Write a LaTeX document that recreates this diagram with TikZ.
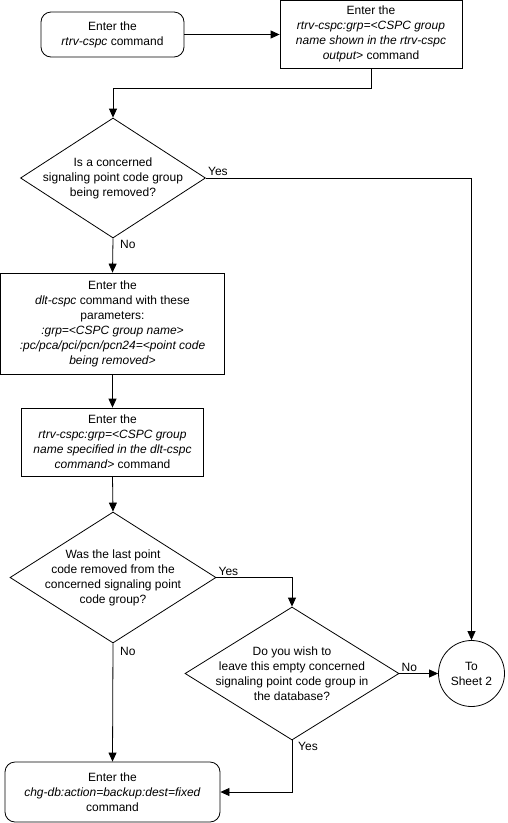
\documentclass[tikz,border=0pt]{standalone}
\usepackage{fontspec}
\setmainfont{Liberation Sans}
\usetikzlibrary{arrows.meta,shapes.geometric}
\tikzstyle{line}=[
	draw=black,
	line width=0.8pt
]
\tikzstyle{arr}=[
	line,
	-{Triangle[width=8pt,length=9pt]}
]
\tikzstyle{txt}=[
	font=\fontsize{12}{15}\selectfont,
	align=center,
	inner sep=0pt
]
\tikzstyle{proc}=[
	txt,
	rectangle,
	line
]
\tikzstyle{term}=[
	proc,
	rounded corners=10pt
]
\tikzstyle{decision}=[
	diamond,
	line,
	inner sep=0pt
]
\tikzstyle{conn}=[
	txt,
	circle,
	line,
	minimum size=66pt
]
\tikzstyle{lbl}=[
	txt,
	inner sep=2pt
]
\begin{document}
\begin{tikzpicture}[x=1pt,y=-1pt]
\useasboundingbox (0,0) rectangle (507,823);
\node[term, minimum width=143pt, minimum height=45pt] (start) at (112.5,34.5) {Enter the\\\textit{rtrv-cspc} command};
\node[proc, minimum width=182pt, minimum height=68pt] (rtrv1) at (371,34) {Enter the\\\textit{rtrv-cspc:grp=<CSPC group}\\\textit{name shown in the rtrv-cspc}\\\textit{output>} command};
\node[decision, minimum width=185pt, minimum height=120pt,
  label={[txt]center:{Is a concerned\\signaling point code group\\being removed?}}] (removed) at (113,178) {};
\node[proc, minimum width=224pt, minimum height=101pt] (dlt) at (112.5,323.5) {Enter the\\\textit{dlt-cspc} command with these\\parameters:\\\textit{:grp=<CSPC group name>}\\\textit{:pc/pca/pci/pcn/pcn24=<point code}\\\textit{being removed>}};
\node[proc, minimum width=182pt, minimum height=68pt] (rtrv2) at (112.5,442) {Enter the\\\textit{rtrv-cspc:grp=<CSPC group}\\\textit{name specified in the dlt-cspc}\\\textit{command>} command};
\node[decision, minimum width=206pt, minimum height=131pt,
  label={[txt]center:{Was the last point\\code removed from the\\concerned signaling point\\code group?}}] (last) at (113,577.5) {};
\node[decision, minimum width=214pt, minimum height=133pt,
  label={[txt]center:{Do you wish to\\leave this empty concerned\\signaling point code group in\\the database?}}] (leave) at (292,673.5) {};
\node[conn] (sheet) at (471.5,673.5) {To\\Sheet 2};
\node[term, minimum width=215pt, minimum height=60pt] (chgdb) at (112.5,792) {Enter the\\\textit{chg-db:action=backup:dest=fixed}\\command};

\node[lbl, anchor=south west] (yes1) at (removed.east) {Yes};
\node[lbl, anchor=north west] (no1) at ([xshift=5pt]removed.south) {No};
\node[lbl, anchor=south west] (yes2) at (last.east) {Yes};
\node[lbl, anchor=north west] (no2) at ([xshift=5pt,yshift=-2pt]last.south) {No};
\node[lbl, anchor=south west] (no3) at (leave.east) {No};
\node[lbl, anchor=north west] (yes3) at ([xshift=4pt]leave.south) {Yes};

\draw[arr] (start.east) -- (start.east -| rtrv1.west);
\draw[arr] (rtrv1.south) -- ++(0,20) -| (removed.north);
\draw[arr] (removed.east) -| (sheet.north);
\draw[arr] (removed.south) -- (dlt.north);
\draw[arr] (dlt.south) -- (rtrv2.north);
\draw[arr] (rtrv2.south) -- (last.north);
\draw[arr] (last.east) -| (leave.north);
\draw[arr] (last.south) -- (chgdb.north);
\draw[arr] (leave.east) -- (sheet.west);
\draw[arr] (leave.south) |- (chgdb.east);

\end{tikzpicture}
\end{document}
